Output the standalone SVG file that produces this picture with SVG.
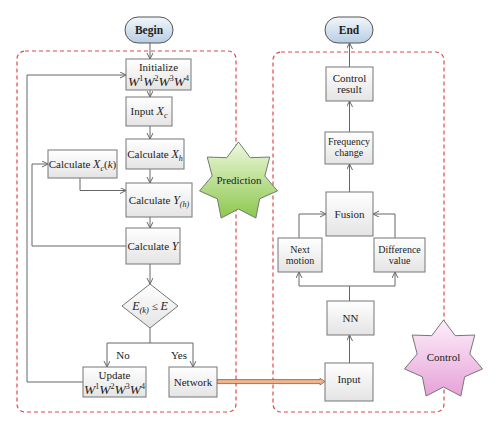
<svg xmlns="http://www.w3.org/2000/svg" width="500" height="430" viewBox="0 0 500 430">
<defs>
<linearGradient id="gBox" x1="0" y1="0" x2="0" y2="1"><stop offset="0" stop-color="#ffffff"/><stop offset="1" stop-color="#e4e4e4"/></linearGradient>
<linearGradient id="gPill" x1="0" y1="0" x2="0" y2="1"><stop offset="0" stop-color="#f2f7fc"/><stop offset="1" stop-color="#b7cde3"/></linearGradient>
<linearGradient id="gGreen" x1="0" y1="0" x2="0" y2="1"><stop offset="0" stop-color="#eef8dc"/><stop offset="1" stop-color="#8cc84e"/></linearGradient>
<linearGradient id="gPink" x1="0" y1="0" x2="0" y2="1"><stop offset="0" stop-color="#fdeefa"/><stop offset="1" stop-color="#e6a2d8"/></linearGradient>
<marker id="arr" markerWidth="8" markerHeight="8" refX="6" refY="3" orient="auto" markerUnits="userSpaceOnUse">
<path d="M0,0 L6,3 L0,6" fill="none" stroke="#666" stroke-width="1"/>
</marker>
<polygon id="star" points="0,-40 11.72,-24.33 31.27,-24.94 26.32,-6.01 39,8.9 21.11,16.83 17.36,36.04 0,27 -17.36,36.04 -21.11,16.83 -39,8.9 -26.32,-6.01 -31.27,-24.94 -11.72,-24.33"/>
</defs>
<style>
.box{fill:url(#gBox);stroke:#777;stroke-width:1}
.pill{fill:url(#gPill);stroke:#555;stroke-width:1}
.dash{fill:none;stroke:#e04a4a;stroke-width:1.2;stroke-dasharray:4,3}
.t{font-family:"Liberation Serif",serif;font-size:11px;fill:#222;text-anchor:middle}
.s{font-size:10px}
.b{font-weight:bold;font-size:11.5px}
.w{font-style:italic;font-size:13.5px}
.i{font-style:italic}
.c line,.c path,.c polyline{fill:none;stroke:#666;stroke-width:1}
</style>
<rect width="500" height="430" fill="#ffffff"/>
<rect class="dash" x="17" y="51" width="219" height="361" rx="8"/>
<rect class="dash" x="273" y="52" width="171" height="360" rx="8"/>
<g class="c" id="connectors">
<line x1="150" y1="43" x2="150" y2="59" marker-end="url(#arr)"/>
<line x1="150" y1="90" x2="150" y2="97" marker-end="url(#arr)"/>
<line x1="150" y1="126" x2="150" y2="139" marker-end="url(#arr)"/>
<line x1="150" y1="169" x2="150" y2="183" marker-end="url(#arr)"/>
<line x1="150" y1="217" x2="150" y2="228" marker-end="url(#arr)"/>
<line x1="150" y1="264" x2="150" y2="284" marker-end="url(#arr)"/>
<polyline points="80,178 80,190.5 126,190.5" marker-end="url(#arr)"/>
<polyline points="126,246 32,246 32,164 48,164" marker-end="url(#arr)"/>
<polyline points="83,382 27,382 27,75 126,75" marker-end="url(#arr)"/>
<polyline points="150,328 150,343 107,343 107,367" marker-end="url(#arr)"/>
<polyline points="150,343 193,343 193,367" marker-end="url(#arr)"/>
<line x1="349.5" y1="363" x2="349.5" y2="335" marker-end="url(#arr)"/>
<polyline points="349.5,301 349.5,286 299,286 299,272" marker-end="url(#arr)"/>
<polyline points="349.5,286 395,286 395,272" marker-end="url(#arr)"/>
<polyline points="299,238 299,214 326,214" marker-end="url(#arr)"/>
<polyline points="395,238 395,214 373,214" marker-end="url(#arr)"/>
<line x1="349.5" y1="192" x2="349.5" y2="164" marker-end="url(#arr)"/>
<line x1="349.5" y1="132" x2="349.5" y2="101" marker-end="url(#arr)"/>
<line x1="349.5" y1="67" x2="349.5" y2="43" marker-end="url(#arr)"/>
<polygon points="217,379.6 320,379.6 320,378.3 325,381.6 320,384.9 320,383.6 217,383.6" fill="#f2b48a" stroke="#7a6050" stroke-width="0.8"/>
</g>
<g id="begin"><rect class="pill" x="125" y="17" width="48" height="26" rx="13"/><text class="t b" x="149" y="34">Begin</text></g>
<g id="init"><rect class="box" x="126" y="59" width="65" height="31"/><text class="t" x="158.5" y="71">Initialize</text><text class="t w" x="158.5" y="86">W<tspan font-size="8" dy="-5.5" font-style="normal">1</tspan><tspan dy="5.5">W</tspan><tspan font-size="8" dy="-5.5" font-style="normal">2</tspan><tspan dy="5.5">W</tspan><tspan font-size="8" dy="-5.5" font-style="normal">3</tspan><tspan dy="5.5">W</tspan><tspan font-size="8" dy="-5.5" font-style="normal">4</tspan></text></g>
<g id="inputxc"><rect class="box" x="126" y="97" width="46" height="29"/><text class="t" x="149" y="115">Input <tspan class="i" font-size="12">X</tspan><tspan class="i" font-size="8" dy="2.5">c</tspan></text></g>
<g id="calcxh"><rect class="box" x="126" y="139" width="58" height="30"/><text class="t" x="155" y="158">Calculate <tspan class="i" font-size="12">X</tspan><tspan class="i" font-size="8" dy="2.5">h</tspan></text></g>
<g id="calcxck"><rect class="box" x="48" y="150" width="69" height="28"/><text class="t" x="82.5" y="168">Calculate <tspan class="i" font-size="12">X</tspan><tspan class="i" font-size="8" dy="2.5">c</tspan><tspan dy="-2.5">(</tspan><tspan class="i">k</tspan>)</text></g>
<g id="calcyh"><rect class="box" x="126" y="183" width="66" height="34"/><text class="t" x="159" y="204">Calculate <tspan class="i" font-size="12">Y</tspan><tspan class="i" font-size="8" dy="2.5">(h)</tspan></text></g>
<g id="calcy"><rect class="box" x="126" y="228" width="54" height="36"/><text class="t" x="153" y="250">Calculate <tspan class="i" font-size="12">Y</tspan></text></g>
<g id="decision"><polygon points="150,284 178,306 150,328 122,306" fill="url(#gBox)" stroke="#777" stroke-width="1"/><text class="t" x="150" y="310"><tspan class="i" font-size="12">E</tspan><tspan class="i" font-size="8.5" dy="2.5">(k)</tspan><tspan dy="-2.5"> ≤ </tspan><tspan class="i" font-size="12">E</tspan></text></g>
<text class="t" x="123" y="359">No</text>
<text class="t" x="179" y="359">Yes</text>
<g id="update"><rect class="box" x="83" y="367" width="63" height="30"/><text class="t" x="114.5" y="379">Update</text><text class="t w" x="114.5" y="394">W<tspan font-size="8" dy="-5.5" font-style="normal">1</tspan><tspan dy="5.5">W</tspan><tspan font-size="8" dy="-5.5" font-style="normal">2</tspan><tspan dy="5.5">W</tspan><tspan font-size="8" dy="-5.5" font-style="normal">3</tspan><tspan dy="5.5">W</tspan><tspan font-size="8" dy="-5.5" font-style="normal">4</tspan></text></g>
<g id="network"><rect class="box" x="169" y="367" width="48" height="30"/><text class="t" x="193" y="386">Network</text></g>
<g id="end"><rect class="pill" x="325" y="17" width="48" height="26" rx="13"/><text class="t b" x="349" y="34">End</text></g>
<g id="controlresult"><rect class="box" x="326" y="67" width="47" height="34"/><text class="t" x="349.5" y="82">Control</text><text class="t" x="349.5" y="93">result</text></g>
<g id="freq"><rect class="box" x="325" y="132" width="48" height="32"/><text class="t s" x="349" y="145">Frequency</text><text class="t s" x="349" y="156">change</text></g>
<g id="fusion"><rect class="box" x="326" y="192" width="47" height="44"/><text class="t" x="349.5" y="218">Fusion</text></g>
<g id="nextmotion"><rect class="box" x="278" y="238" width="44" height="34"/><text class="t s" x="300" y="253">Next</text><text class="t s" x="300" y="264">motion</text></g>
<g id="diffvalue"><rect class="box" x="374" y="238" width="51" height="34"/><text class="t s" x="399.5" y="253">Difference</text><text class="t s" x="399.5" y="264">value</text></g>
<g id="nn"><rect class="box" x="327" y="301" width="47" height="34"/><text class="t" x="350.5" y="322">NN</text></g>
<g id="input"><rect class="box" x="325" y="363" width="48" height="38"/><text class="t" x="349" y="383">Input</text></g>
<g id="prediction"><use href="#star" transform="translate(238.5,182)" fill="url(#gGreen)" stroke="#777" stroke-width="1"/><text class="t" x="239" y="184">Prediction</text></g>
<g id="control"><use href="#star" transform="translate(443.5,360)" fill="url(#gPink)" stroke="#777" stroke-width="1"/><text class="t" x="443.5" y="361">Control</text></g>
</svg>
